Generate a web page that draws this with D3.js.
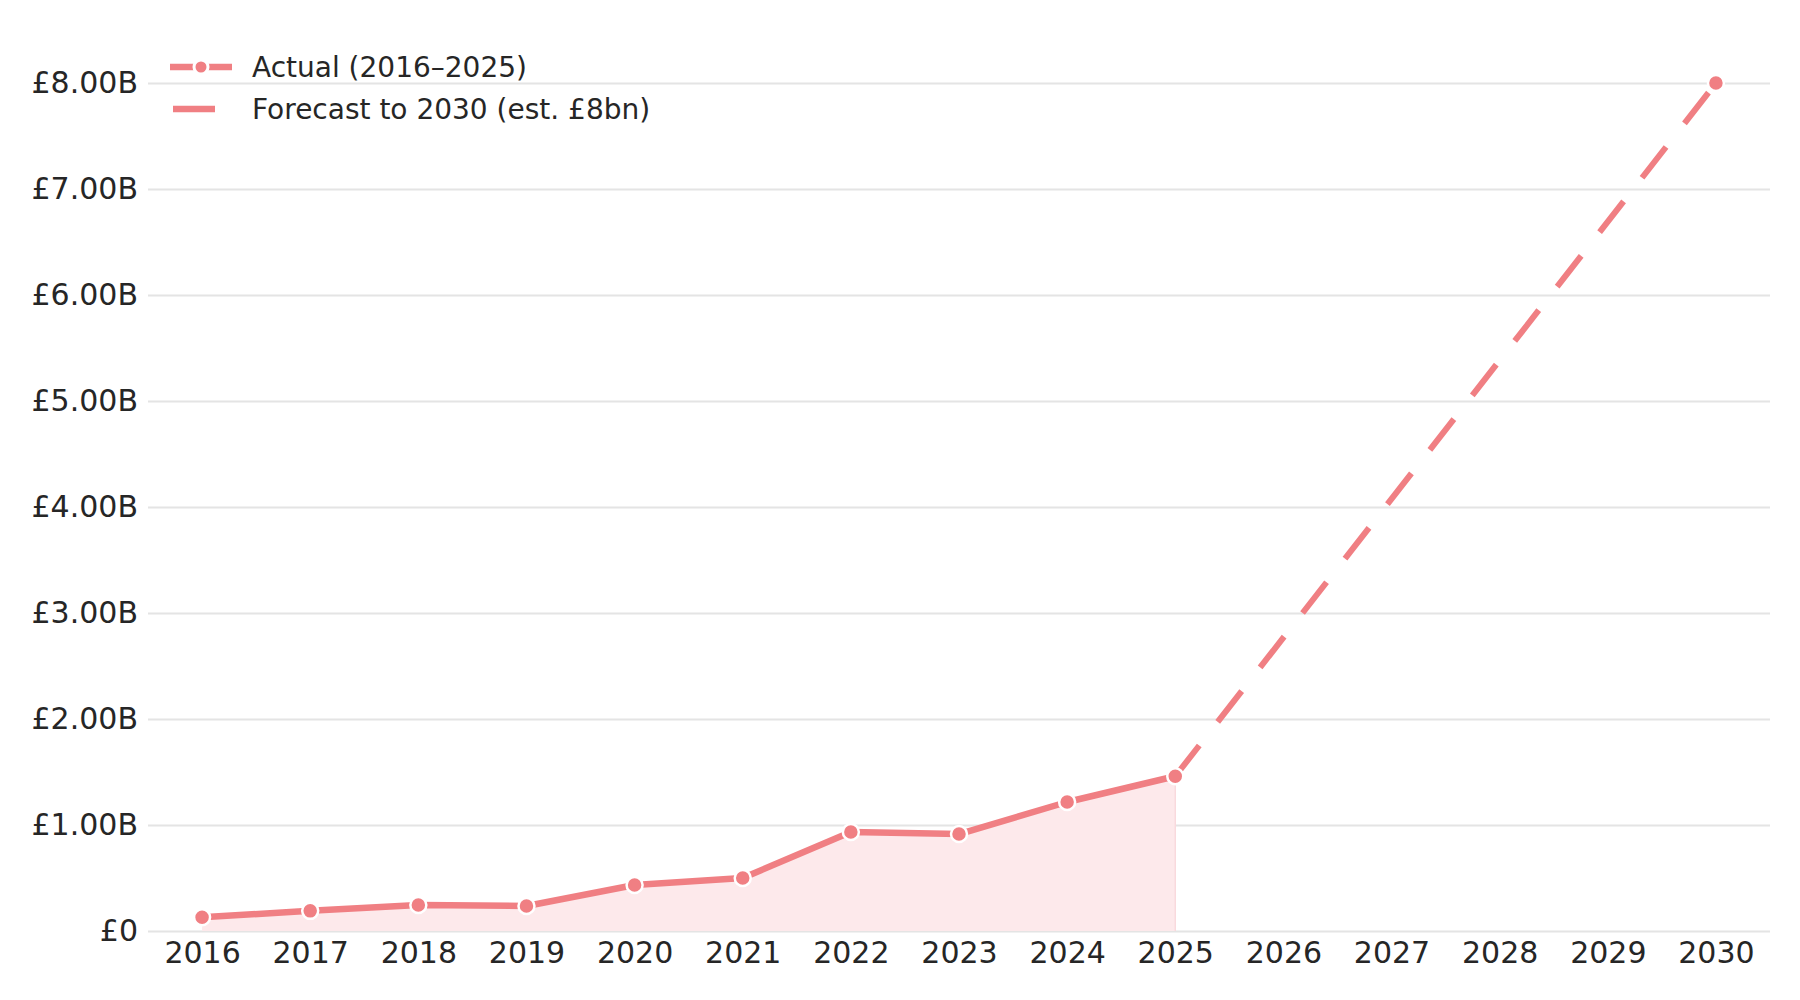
<!DOCTYPE html>
<html>
<head>
<meta charset="utf-8">
<script src="https://cdn.jsdelivr.net/npm/d3@7"></script>
<style>
  body { margin: 0; background: #fff; }
  svg, svg text { font-family: "DejaVu Sans", sans-serif; }
</style>
</head>
<body>
<svg id="chart" width="1800" height="1000"></svg>
<script>
// chart data
const years = ["2016", "2017", "2018", "2019", "2020", "2021", "2022", "2023",
  "2024", "2025", "2026", "2027", "2028", "2029", "2030"];
const actualYears = ["2016", "2017", "2018", "2019", "2020", "2021", "2022", "2023", "2024", "2025"];
const actualValues = [0.13, 0.19, 0.245, 0.236, 0.434, 0.50, 0.934, 0.915, 1.217, 1.46]; // £bn
const forecastYears = ["2025", "2030"];
const forecastValues = [1.46, 8.0];
const yTicks = [0, 1, 2, 3, 4, 5, 6, 7, 8];
const legendLabels = ["Actual (2016\u20132025)", "Forecast to 2030 (est. \u00a38bn)"];

const color = "#f07f83";
const textColor = "#262626";

const svg = d3.select("#chart");

const x = d3.scalePoint().domain(years).range([148, 1770]).padding(0.5);
const y = d3.scaleLinear().domain([0, 8]).range([931, 83]);

const fmt = d => d === 0 ? "\u00a30" : "\u00a3" + d.toFixed(2) + "B";

// gridlines + y labels
const yAxis = svg.append("g")
  .attr("transform", "translate(148,0)")
  .call(d3.axisLeft(y).tickValues(yTicks).tickFormat(fmt).tickSize(-1622).tickPadding(10))
  .attr("font-family", "DejaVu Sans")
  .attr("font-size", 30);
yAxis.select(".domain").remove();
yAxis.selectAll("line").attr("stroke", "#e4e4e4").attr("stroke-width", 2);
yAxis.selectAll("text").attr("fill", textColor);

// x labels
const xAxis = svg.append("g")
  .attr("transform", "translate(0,931)")
  .call(d3.axisBottom(x).tickSize(0).tickPadding(11))
  .attr("font-family", "DejaVu Sans")
  .attr("font-size", 30);
xAxis.select(".domain").remove();
xAxis.selectAll("text").attr("fill", textColor);

const actual = actualYears.map((d, i) => ({ year: d, value: actualValues[i] }));
const forecast = forecastYears.map((d, i) => ({ year: d, value: forecastValues[i] }));

// shaded area under actual
svg.append("path")
  .datum(actual)
  .attr("fill", "#fde9eb")
  .attr("d", d3.area().x(d => x(d.year)).y0(y(0)).y1(d => y(d.value)));

svg.append("line")
  .attr("x1", x("2025")).attr("x2", x("2025"))
  .attr("y1", y(actualValues[actualValues.length - 1])).attr("y2", y(0))
  .attr("stroke", "#f9dadd").attr("stroke-width", 1.5);

const line = d3.line().x(d => x(d.year)).y(d => y(d.value));

// forecast dashed
svg.append("path")
  .datum(forecast)
  .attr("fill", "none")
  .attr("stroke", color)
  .attr("stroke-width", 6)
  .attr("stroke-dasharray", "39,30")
  .attr("d", line);

// actual line
svg.append("path")
  .datum(actual)
  .attr("fill", "none")
  .attr("stroke", color)
  .attr("stroke-width", 6.5)
  .attr("stroke-linejoin", "round")
  .attr("d", line);

// markers
svg.append("g")
  .selectAll("circle")
  .data(actual.concat(forecast.slice(1)))
  .join("circle")
  .attr("cx", d => x(d.year))
  .attr("cy", d => y(d.value))
  .attr("r", 8)
  .attr("fill", color)
  .attr("stroke", "#fff")
  .attr("stroke-width", 2.5);

// legend
const legend = svg.append("g");
legend.append("line")
  .attr("x1", 170).attr("x2", 232).attr("y1", 67).attr("y2", 67)
  .attr("stroke", color).attr("stroke-width", 6.5);
legend.append("circle")
  .attr("cx", 201).attr("cy", 67).attr("r", 7)
  .attr("fill", color).attr("stroke", "#fff").attr("stroke-width", 3);
legend.append("line")
  .attr("x1", 173).attr("x2", 215).attr("y1", 109).attr("y2", 109)
  .attr("stroke", color).attr("stroke-width", 6.5);

legend.selectAll("text")
  .data(legendLabels)
  .join("text")
  .attr("x", 252)
  .attr("y", (d, i) => 67 + i * 42)
  .attr("dy", "0.35em")
  .attr("fill", textColor)
  .style("font-size", "28px")
  .text(d => d);
</script>
</body>
</html>
